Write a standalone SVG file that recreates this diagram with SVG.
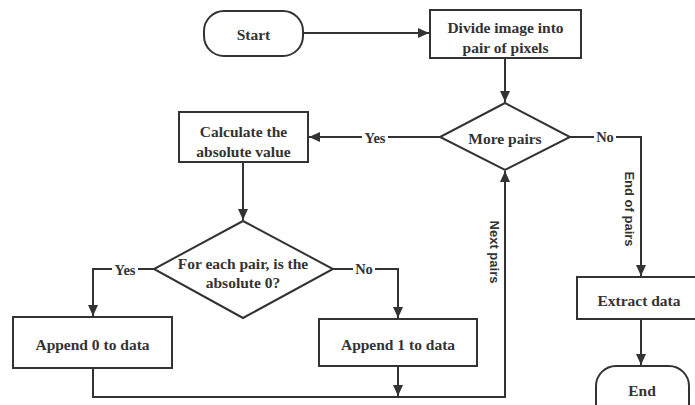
<svg xmlns="http://www.w3.org/2000/svg" width="695" height="405" viewBox="0 0 695 405">
<style>
.n{fill:#fff;stroke:#333;stroke-width:2}
.t{font-weight:700;font-size:15.5px;fill:#333;text-anchor:middle;dominant-baseline:central}
.c{fill:none;stroke:#333;stroke-width:2}
.l{font-weight:700;font-size:14.5px;fill:#333;text-anchor:middle;dominant-baseline:central}
.r{font-weight:700;font-size:13px;fill:#333;text-anchor:middle;dominant-baseline:central}
.bg{fill:#fff;stroke:none}
</style>
<defs>
<marker id="ah" markerUnits="userSpaceOnUse" markerWidth="12" markerHeight="10" refX="11" refY="5" orient="auto">
<path d="M0,0 L11,5 L0,10 Z" fill="#333"/>
</marker>
</defs>
<rect width="695" height="405" fill="#fff"/>
<g id="connectors" font-family="Liberation Serif, Times New Roman, serif">
<path class="c" d="M303,33 H429" marker-end="url(#ah)"/>
<path class="c" d="M505,58 V102" marker-end="url(#ah)"/>
<path class="c" d="M440,137 H309" marker-end="url(#ah)"/>
<rect class="bg" x="362" y="128" width="26" height="18"/>
<text class="l" x="375" y="138">Yes</text>
<path class="c" d="M570,137 H641 V276" marker-end="url(#ah)"/>
<rect class="bg" x="594" y="128" width="22" height="18"/>
<text class="l" x="605" y="137">No</text>
<text class="r" font-family="Liberation Sans, Arial, sans-serif" transform="translate(629,209) rotate(90)">End of pairs</text>
<path class="c" d="M243,162 V220" marker-end="url(#ah)"/>
<path class="c" d="M154,269 H93 V316" marker-end="url(#ah)"/>
<rect class="bg" x="112" y="260" width="26" height="18"/>
<text class="l" x="125" y="270">Yes</text>
<path class="c" d="M333,269 H398 V318" marker-end="url(#ah)"/>
<rect class="bg" x="353" y="260" width="22" height="18"/>
<text class="l" x="364" y="269">No</text>
<path class="c" d="M93,368 V397 H505 V171" marker-end="url(#ah)"/>
<path class="c" d="M398,366 V396" marker-end="url(#ah)"/>
<text class="r" font-family="Liberation Sans, Arial, sans-serif" transform="translate(494,252) rotate(90)">Next  pairs</text>
<path class="c" d="M641,319 V365" marker-end="url(#ah)"/>
</g>
<g font-family="Liberation Serif, Times New Roman, serif">
<g id="start">
<rect class="n" x="204" y="11" width="99" height="45" rx="20"/>
<text class="t" x="253.5" y="34">Start</text>
</g>
<g id="divide">
<rect class="n" x="430" y="10" width="151" height="48"/>
<text class="t" x="505.5" y="27">Divide image into</text>
<text class="t" x="505.5" y="47">pair of pixels</text>
</g>
<g id="more-pairs">
<polygon class="n" points="505,103 570,137 505,170 440,137"/>
<text class="t" x="505" y="138">More pairs</text>
</g>
<g id="calculate">
<rect class="n" x="179" y="112" width="129" height="50"/>
<text class="t" x="243.5" y="131">Calculate the</text>
<text class="t" x="243.5" y="151">absolute value</text>
</g>
<g id="is-zero">
<polygon class="n" points="243,221 333,269 243,318 154,269"/>
<text class="t" x="243" y="263">For each pair, is the</text>
<text class="t" x="243" y="282">absolute 0?</text>
</g>
<g id="append0">
<rect class="n" x="13" y="317" width="159" height="51"/>
<text class="t" x="92.5" y="344">Append 0 to data</text>
</g>
<g id="append1">
<rect class="n" x="319" y="319" width="158" height="47"/>
<text class="t" x="398" y="344">Append 1 to data</text>
</g>
<g id="extract">
<rect class="n" x="577" y="277" width="128" height="42"/>
<text class="t" x="639" y="300">Extract data</text>
</g>
<g id="end">
<rect class="n" x="596" y="366" width="93" height="60" rx="20"/>
<text class="t" x="642" y="390">End</text>
</g>
</g>
</svg>
